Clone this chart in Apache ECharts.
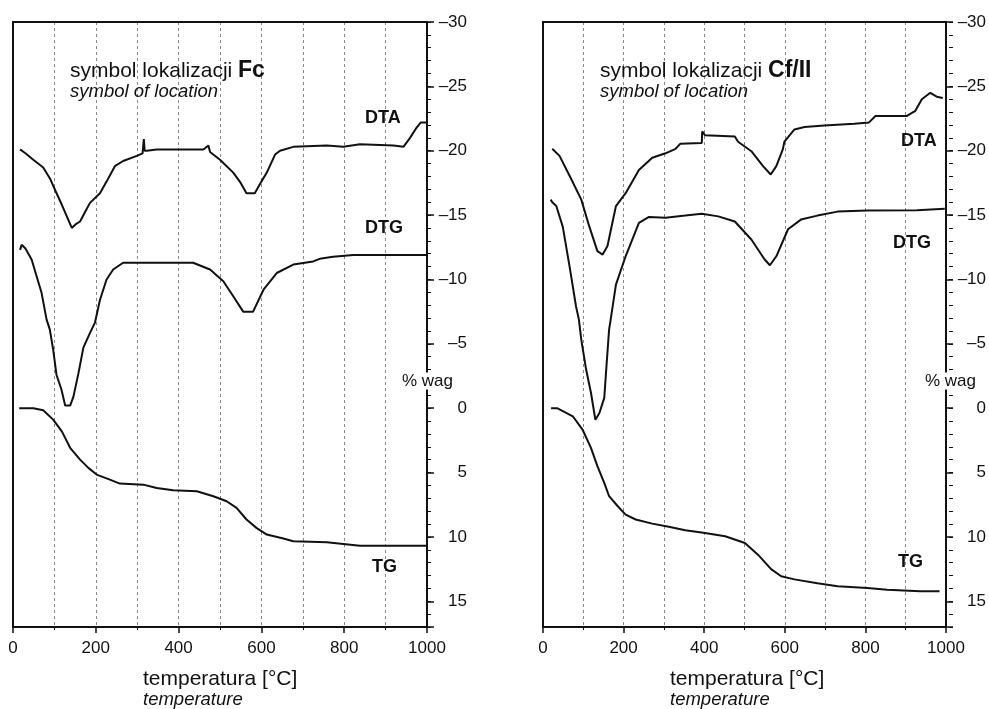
<!DOCTYPE html>
<html>
<head>
<meta charset="utf-8">
<script src="https://cdn.jsdelivr.net/npm/echarts@6/dist/echarts.min.js"></script>
<style>html,body{margin:0;padding:0;background:#fff}#c{width:989px;height:709px}</style>
</head>
<body>
<div id="c"></div>
<script>
// ---- data (temperature °C, axis value) ----
var fcDTA = [[17,-20.1],[30,-19.8],[49,-19.3],[73,-18.7],[90,-17.8],[103,-16.85],[118,-15.8],[130,-14.9],[142,-14.0],[152,-14.3],[162,-14.5],[175,-15.3],[186,-15.95],[210,-16.7],[226,-17.6],[246,-18.8],[266,-19.2],[299,-19.6],[313,-19.8],[316,-20.9],[318,-20.0],[323,-20.0],[347,-20.1],[460,-20.1],[472,-20.4],[476,-19.9],[500,-19.3],[532,-18.3],[550,-17.5],[564,-16.7],[584,-16.7],[600,-17.6],[613,-18.3],[633,-19.7],[645,-20.0],[677,-20.3],[758,-20.4],[798,-20.3],[838,-20.5],[919,-20.4],[943,-20.3],[959,-21.0],[975,-21.8],[985,-22.2],[1000,-22.2]];
var fcDTG = [[17,-12.3],[21,-12.7],[30,-12.4],[45,-11.55],[57,-10.25],[69,-8.96],[81,-6.9],[89,-6.1],[97,-4.55],[105,-2.6],[117,-1.45],[126,-0.2],[138,-0.2],[146,-0.9],[158,-2.7],[170,-4.7],[186,-5.85],[198,-6.65],[210,-8.4],[226,-10.0],[242,-10.77],[266,-11.3],[435,-11.3],[476,-10.77],[508,-9.86],[532,-8.7],[556,-7.5],[580,-7.5],[605,-9.2],[637,-10.5],[677,-11.16],[725,-11.4],[741,-11.6],[773,-11.76],[822,-11.9],[1000,-11.9]];
var fcTG = [[15,0],[49,0],[73,0.16],[97,0.89],[118,1.8],[138,3.08],[162,4.0],[182,4.64],[202,5.16],[234,5.55],[258,5.86],[315,5.94],[347,6.2],[387,6.38],[444,6.45],[484,6.84],[516,7.23],[540,7.75],[564,8.65],[588,9.3],[613,9.82],[653,10.13],[677,10.34],[758,10.42],[838,10.68],[1000,10.68]];
var cfDTA = [[23,-20.15],[41,-19.6],[70,-17.8],[95,-16.2],[115,-14.1],[135,-12.2],[148,-11.93],[160,-12.6],[181,-15.7],[205,-16.7],[238,-18.5],[271,-19.45],[304,-19.8],[329,-20.15],[341,-20.55],[394,-20.6],[395,-21.5],[402,-21.2],[476,-21.1],[484,-20.7],[517,-19.96],[546,-18.8],[565,-18.15],[579,-18.8],[595,-20.1],[599,-20.7],[624,-21.65],[649,-21.85],[698,-21.96],[772,-22.1],[809,-22.2],[825,-22.7],[903,-22.7],[924,-23.1],[940,-24.0],[961,-24.5],[977,-24.2],[992,-24.1]];
var cfDTG = [[19,-16.2],[23,-16.0],[33,-15.7],[49,-14.1],[66,-11.0],[82,-7.9],[89,-6.9],[95,-5.33],[107,-3.0],[119,-1.2],[130,0.9],[140,0.37],[152,-0.8],[158,-3.5],[164,-6.1],[168,-6.9],[181,-9.6],[205,-11.8],[238,-14.4],[263,-14.86],[304,-14.8],[353,-14.96],[394,-15.1],[435,-14.9],[476,-14.5],[517,-13.1],[550,-11.55],[563,-11.1],[579,-11.8],[608,-13.9],[640,-14.65],[681,-14.96],[731,-15.27],[805,-15.35],[928,-15.37],[997,-15.5]];
var cfTG = [[20,0],[35,0],[74,0.63],[98,1.66],[119,3.09],[135,4.5],[152,5.8],[164,6.84],[185,7.6],[205,8.27],[230,8.65],[271,8.97],[312,9.22],[353,9.48],[402,9.69],[452,9.95],[501,10.47],[534,11.4],[566,12.5],[591,13.06],[624,13.3],[681,13.6],[731,13.84],[805,13.97],[854,14.1],[936,14.23],[984,14.23]];
var panelSymbols = ['Fc', 'Cf/II'];
var curveLabels = ['DTA', 'DTG', 'TG'];
var yMin = -30, yMax = 17;

var FONT = 'Liberation Sans, Arial, sans-serif';
var INK = '#111';
var gridBoxes = [{left: 13, right: 562}, {left: 543, right: 40}];
var chart = echarts.init(document.getElementById('c'));

function xAxisFor(i) {
  return {
    gridIndex: i, type: 'value', min: 0, max: 1000, interval: 200,
    axisLine: {onZero: false, lineStyle: {color: INK, width: 2}},
    axisTick: {length: 6, lineStyle: {color: INK, width: 1.5}},
    minorTick: {show: true, splitNumber: 2, length: 3, lineStyle: {color: INK, width: 1}},
    splitLine: {show: true, lineStyle: {color: '#888', type: [3, 3], width: 1}},
    minorSplitLine: {show: true, lineStyle: {color: '#888', type: [3, 3], width: 1}},
    axisLabel: {fontSize: 17, fontFamily: FONT, color: INK, margin: 13,
      formatter: function (v) { return String(v); }}
  };
}
function yMajor(i) {
  return {
    gridIndex: i, type: 'value', position: 'right', inverse: true,
    min: yMin, max: yMax, interval: 5,
    axisLine: {show: true, onZero: false, lineStyle: {color: INK, width: 2}},
    axisTick: {show: true, length: 7, lineStyle: {color: INK, width: 1.5}},
    splitLine: {show: false},
    axisLabel: {
      fontSize: 17, fontFamily: FONT, color: INK, align: 'right', margin: 40,
      formatter: function (v) {
        if (v % 5 !== 0) return '';
        return v < 0 ? '\u2013' + (-v) : String(v);
      }
    }
  };
}
// minor ticks every unit: a label-less axis on the left side, shifted onto the right edge
function yMinor(i) {
  var w = 989 - gridBoxes[i].left - gridBoxes[i].right;
  return {
    gridIndex: i, type: 'value', position: 'left', offset: -w, inverse: true,
    min: yMin, max: yMax, interval: 1,
    axisLine: {show: false, onZero: false},
    axisTick: {show: true, inside: true, length: 4, lineStyle: {color: INK, width: 1}},
    splitLine: {show: false},
    axisLabel: {show: false}
  };
}
function line(data, xi, yi) {
  return {
    type: 'line', xAxisIndex: xi, yAxisIndex: yi, data: data,
    showSymbol: false, symbol: 'none', animation: false,
    lineStyle: {color: INK, width: 2}
  };
}
function txt(x, y, text, font, extra) {
  var s = {text: text, x: x, y: y, font: font, fill: INK, verticalAlign: 'middle', align: 'left'};
  if (extra) for (var k in extra) s[k] = extra[k];
  return {type: 'text', z: 100, style: s};
}
function richTitle(x, y, sym) {
  return {type: 'text', z: 100, style: {
    text: '{a|symbol lokalizacji }{b|' + sym + '}', x: x, y: y, verticalAlign: 'middle', fill: INK,
    rich: {a: {font: '21px ' + FONT, fill: INK}, b: {font: 'bold 23px ' + FONT, fill: INK}}
  }};
}

var option = {
  animation: false,
  grid: [
    {left: gridBoxes[0].left, right: gridBoxes[0].right, top: 22, bottom: 82, show: true, z: 5, backgroundColor: 'transparent', borderColor: INK, borderWidth: 2},
    {left: gridBoxes[1].left, right: gridBoxes[1].right, top: 22, bottom: 82, show: true, z: 5, backgroundColor: 'transparent', borderColor: INK, borderWidth: 2}
  ],
  xAxis: [xAxisFor(0), xAxisFor(1)],
  yAxis: [yMajor(0), yMinor(0), yMajor(1), yMinor(1)],
  series: [
    line(fcDTA, 0, 0), line(fcDTG, 0, 0), line(fcTG, 0, 0),
    line(cfDTA, 1, 2), line(cfDTG, 1, 2), line(cfTG, 1, 2)
  ],
  graphic: [
    richTitle(70, 71, panelSymbols[0]),
    txt(70, 92, 'symbol of location', 'italic 18.5px ' + FONT),
    richTitle(600, 71, panelSymbols[1]),
    txt(600, 92, 'symbol of location', 'italic 18.5px ' + FONT),
    txt(365, 118, curveLabels[0], 'bold 18px ' + FONT),
    txt(365, 228, curveLabels[1], 'bold 18px ' + FONT),
    txt(372, 567, curveLabels[2], 'bold 18px ' + FONT),
    txt(901, 141, curveLabels[0], 'bold 18px ' + FONT),
    txt(893, 243, curveLabels[1], 'bold 18px ' + FONT),
    txt(898, 562, curveLabels[2], 'bold 18px ' + FONT),
    txt(402, 381, '% wag', '17px ' + FONT, {backgroundColor: '#fff'}),
    txt(925, 381, '% wag', '17px ' + FONT, {backgroundColor: '#fff'}),
    txt(143, 679, 'temperatura [°C]', '21px ' + FONT),
    txt(143, 700, 'temperature', 'italic 18.5px ' + FONT),
    txt(670, 679, 'temperatura [°C]', '21px ' + FONT),
    txt(670, 700, 'temperature', 'italic 18.5px ' + FONT)
  ]
};
chart.setOption(option);
</script>
</body>
</html>
